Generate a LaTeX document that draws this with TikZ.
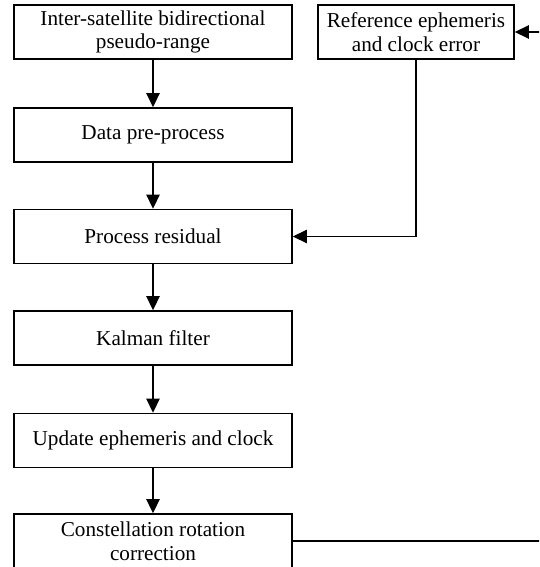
\documentclass[tikz,border=0pt]{standalone}
\usepackage{fontspec}
\setmainfont{Liberation Serif}
\usetikzlibrary{arrows.meta}
\begin{document}
\begin{tikzpicture}[x=0.75pt,y=-0.75pt,
  box/.style={draw,line width=1.3pt,minimum width=208.5pt,minimum height=40.5pt,
    inner sep=0pt,align=center,font=\fontsize{15.9}{17.8}\selectfont},
  refbox/.style={box,minimum width=147pt},
  conn/.style={line width=1.3pt},
  arr/.style={conn,-{Triangle[length=10.5pt,width=10pt]}}]
\clip (0,0) rectangle (539,567);
\useasboundingbox (0,0) rectangle (539,567);
\node[box] (b1) at (153,32) {Inter-satellite bidirectional\\pseudo-range};
\node[box] (b2) at (153,135) {Data pre-process};
\node[box] (b3) at (153,236.5) {Process residual};
\node[box] (b4) at (153,338) {Kalman filter};
\node[box] (b5) at (153,440.5) {Update ephemeris and clock};
\node[box] (b6) at (153,541) {Constellation rotation\\correction};
\node[refbox] (r) at (416,32) {Reference ephemeris\\and clock error};
\coordinate (outb) at (545,541);
\coordinate (outt) at (545,32);
\draw[arr] (b1) -- (b2);
\draw[arr] (b2) -- (b3);
\draw[arr] (b3) -- (b4);
\draw[arr] (b4) -- (b5);
\draw[arr] (b5) -- (b6);
\draw[arr] (r.south) |- (b3.east);
\draw[conn] (b6.east) -- (outb);
\draw[arr] (outt) -- (r.east);
\end{tikzpicture}
\end{document}
